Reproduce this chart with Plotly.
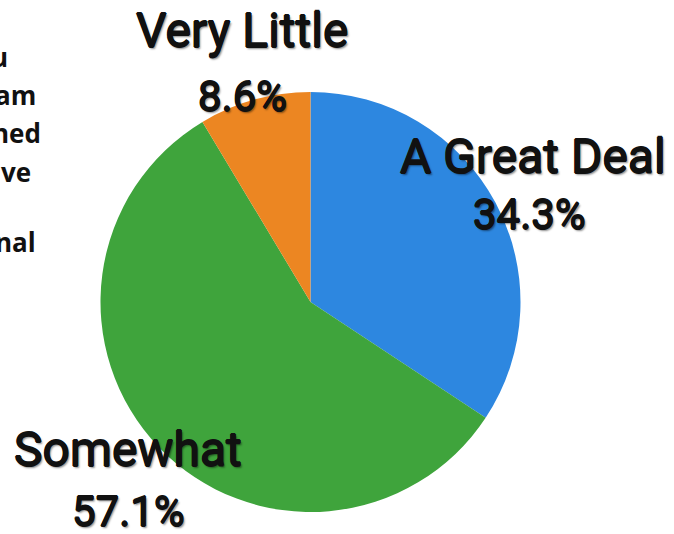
import plotly.graph_objects as go

# Survey responses
categories = ["A Great Deal", "Somewhat", "Very Little"]
shares = [34.3, 57.1, 8.6]
slice_colors = ["#2d87e0", "#3fa43c", "#ec8622"]

# Tail ends of the question text at the left edge
question_fragments = ["u", "am", "ned", "ve", "nal"]

W, H = 674, 534


def px_x(x):
    return x / W


def px_y(y):
    return 1 - y / H


fig = go.Figure(
    go.Pie(
        labels=categories,
        values=shares,
        sort=False,
        direction="clockwise",
        rotation=0,
        textinfo="none",
        hoverinfo="label+percent",
        marker=dict(colors=slice_colors, line=dict(width=0)),
        domain=dict(x=[px_x(100), px_x(521)], y=[px_y(512), px_y(92)]),
        showlegend=False,
    )
)

# Thickened strokes plus a soft drop shadow for the big labels
heavy = ("0.7px 0 0 #111, -0.7px 0 0 #111, 0 0.7px 0 #111, 0 -0.7px 0 #111, "
         "1.5px 1.5px 2px rgba(0,0,0,0.45)")
label_font = dict(family="Roboto, DejaVu Sans, sans-serif", size=48, color="#111111", shadow=heavy)
pct_font = dict(family="Roboto, DejaVu Sans, sans-serif", size=42, color="#111111", shadow=heavy)

# Category name and percentage placed around the pie
label_pos = {
    "Very Little": ((242, 30), (242, 96)),
    "A Great Deal": ((533, 157), (529, 214)),
    "Somewhat": ((128, 449), (128, 511)),
}

annotations = []
for name, val in zip(categories, shares):
    (nx, ny), (vx, vy) = label_pos[name]
    annotations.append(dict(text=name, x=px_x(nx), y=px_y(ny), xref="paper", yref="paper",
                            xanchor="center", yanchor="middle", showarrow=False, font=label_font))
    annotations.append(dict(text=f"{val:.1f}%", x=px_x(vx), y=px_y(vy), xref="paper", yref="paper",
                            xanchor="center", yanchor="middle", showarrow=False, font=pct_font))

frag_pos = [(10, 57), (38, 95), (43, 133), (33, 172), (38, 242)]
for txt, (fx, fy) in zip(question_fragments, frag_pos):
    annotations.append(dict(text=f"<b>{txt}</b>", x=px_x(fx), y=px_y(fy), xref="paper", yref="paper",
                            xanchor="right", yanchor="middle", showarrow=False,
                            font=dict(family="Open Sans, Noto Sans, sans-serif", size=26, color="#111111")))

fig.update_layout(
    width=W,
    height=H,
    margin=dict(l=0, r=0, t=0, b=0),
    paper_bgcolor="white",
    plot_bgcolor="white",
    annotations=annotations,
)

fig.write_html("out.html")
